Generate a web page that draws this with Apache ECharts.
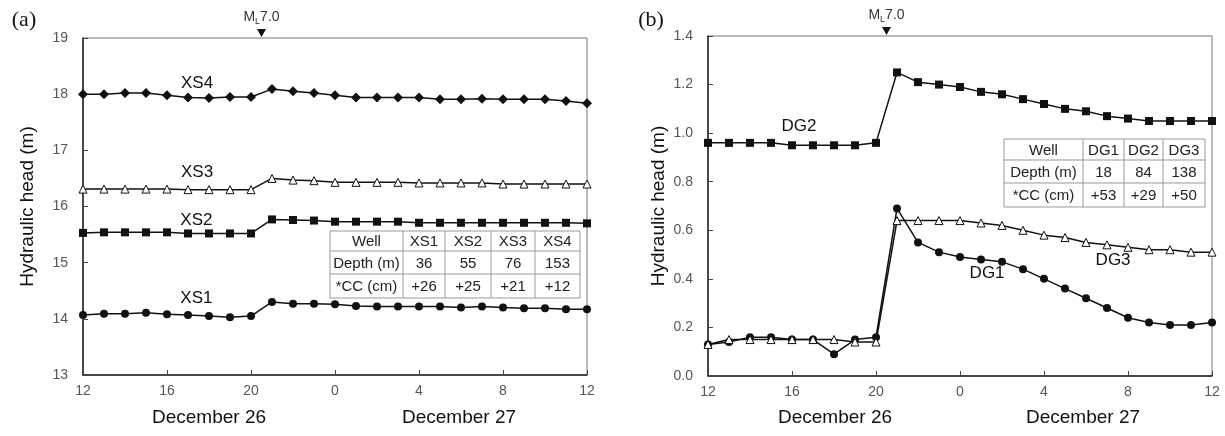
<!DOCTYPE html>
<html><head><meta charset="utf-8">
<script src="https://cdn.jsdelivr.net/npm/echarts@6/dist/echarts.min.js"></script>
<style>html,body{margin:0;padding:0;background:#fff}#c{width:1225px;height:436px}</style>
</head><body><div id="c"></div>
<script>
// ---- data ----
const hours = [12,13,14,15,16,17,18,19,20,21,22,23,24,25,26,27,28,29,30,31,32,33,34,35,36];
const xTickValues = [12,16,20,24,28,32,36];
const xTickLabels = ['12','16','20','0','4','8','12'];
const dayLabels = ['December 26','December 27'];
const xs4 = [18.00,18.00,18.02,18.02,17.98,17.94,17.93,17.95,17.95,18.09,18.05,18.02,17.98,17.94,17.94,17.94,17.94,17.91,17.91,17.92,17.91,17.91,17.91,17.88,17.84];
const xs3 = [16.31,16.31,16.31,16.31,16.31,16.30,16.30,16.30,16.30,16.50,16.47,16.46,16.43,16.43,16.43,16.43,16.42,16.42,16.42,16.42,16.40,16.40,16.40,16.40,16.40];
const xs2 = [15.53,15.54,15.54,15.54,15.54,15.52,15.52,15.52,15.52,15.77,15.76,15.75,15.73,15.73,15.73,15.73,15.71,15.71,15.71,15.71,15.71,15.71,15.71,15.71,15.70];
const xs1 = [14.07,14.09,14.09,14.11,14.08,14.07,14.05,14.03,14.05,14.30,14.27,14.27,14.26,14.23,14.22,14.22,14.22,14.22,14.20,14.22,14.20,14.19,14.19,14.17,14.17];
const dg2 = [0.96,0.96,0.96,0.96,0.95,0.95,0.95,0.95,0.96,1.25,1.21,1.20,1.19,1.17,1.16,1.14,1.12,1.10,1.09,1.07,1.06,1.05,1.05,1.05,1.05];
const dg1 = [0.13,0.14,0.16,0.16,0.15,0.15,0.09,0.15,0.16,0.69,0.55,0.51,0.49,0.48,0.47,0.44,0.40,0.36,0.32,0.28,0.24,0.22,0.21,0.21,0.22];
const dg3 = [0.13,0.15,0.15,0.15,0.15,0.15,0.15,0.14,0.14,0.64,0.64,0.64,0.64,0.63,0.62,0.60,0.58,0.57,0.55,0.54,0.53,0.52,0.52,0.51,0.51];
const quakeHour = 20.5;
const tableA = [['Well','XS1','XS2','XS3','XS4'],['Depth (m)','36','55','76','153'],['*CC (cm)','+26','+25','+21','+12']];
const tableB = [['Well','DG1','DG2','DG3'],['Depth (m)','18','84','138'],['*CC (cm)','+53','+29','+50']];

// ---- chart ----
const FONT = 'Liberation Sans, Arial, sans-serif';
const pairs = v => hours.map((h,i)=>[h,v[i]]);
function xAxis(gi){
  return {type:'value', gridIndex:gi, min:12, max:36, interval:4,
    axisLine:{lineStyle:{color:'#222',width:1.5}},
    axisTick:{inside:true,length:5,lineStyle:{color:'#444'}},
    axisLabel:{color:'#555',fontSize:14,fontFamily:FONT,margin:9,
      formatter:v=>xTickLabels[xTickValues.indexOf(v)]},
    splitLine:{show:false}};
}
function yAxis(gi,min,max,interval,dec,gap){
  return {type:'value', gridIndex:gi, min, max, interval,
    name:'Hydraulic head (m)', nameLocation:'middle', nameGap:gap,
    nameTextStyle:{color:'#111',fontSize:19,fontFamily:FONT},
    axisLine:{show:true,lineStyle:{color:'#222',width:1.5}},
    axisTick:{show:true,inside:true,length:5,lineStyle:{color:'#444'}},
    axisLabel:{color:'#555',fontSize:14,fontFamily:FONT,margin:15,
      formatter:v=>v.toFixed(dec)},
    splitLine:{show:false}};
}
function mp(name,coord){
  return {name, coord, symbol:'circle', symbolSize:1, itemStyle:{color:'rgba(0,0,0,0)'},
    label:{show:true,position:'inside',formatter:name,color:'#111',fontSize:17,fontFamily:FONT}};
}
function quake(ymax){
  return {coord:[quakeHour,ymax], symbol:'triangle', symbolRotate:180, symbolSize:[9,8],
    symbolOffset:[0,-5], itemStyle:{color:'#111'},
    label:{show:true,position:'top',distance:3,
      formatter:'{m|M}{l|L}{t|7.0}',
      rich:{m:{fontSize:14,color:'#333',fontFamily:FONT},
            l:{fontSize:9,color:'#333',fontFamily:FONT,padding:[8,0,0,0]},
            t:{fontSize:14,color:'#333',fontFamily:FONT}}}};
}
function line(name,data,xi,symbol,size,hollow,marks){
  return {type:'line', name, xAxisIndex:xi, yAxisIndex:xi, data:pairs(data),
    symbol, symbolSize:size, showAllSymbol:true, clip:false,
    lineStyle:{color:'#111',width:1.5},
    itemStyle:{color: hollow?'#fff':'#111', borderColor:'#111', borderWidth: hollow?1:0},
    emphasis:{disabled:true},
    markPoint: marks?{animation:false,data:marks}:undefined,
    z: hollow?3:2};
}
function table(rows, colX, rowY){
  const els=[];
  els.push({type:'rect',shape:{x:colX[0],y:rowY[0],width:colX[colX.length-1]-colX[0],height:rowY[rowY.length-1]-rowY[0]},
    style:{fill:'#fff',stroke:'#999',lineWidth:1},z:10});
  for(let i=1;i<colX.length-1;i++) els.push({type:'line',shape:{x1:colX[i],y1:rowY[0],x2:colX[i],y2:rowY[rowY.length-1]},style:{stroke:'#999',lineWidth:1},z:11});
  for(let j=1;j<rowY.length-1;j++) els.push({type:'line',shape:{x1:colX[0],y1:rowY[j],x2:colX[colX.length-1],y2:rowY[j]},style:{stroke:'#999',lineWidth:1},z:11});
  rows.forEach((r,j)=>r.forEach((t,i)=>{
    els.push({type:'text',x:(colX[i]+colX[i+1])/2,y:(rowY[j]+rowY[j+1])/2+1,
      style:{text:t,fill:'#222',font:'15px '+FONT,align:'center',verticalAlign:'middle'},z:12});
  }));
  return els;
}
function txt(t,x,y,font){ return {type:'text',x,y,style:{text:t,fill:'#111',font,align:'center',verticalAlign:'middle'}}; }

const option = {
  animation:false,
  grid:[{left:83,top:38,width:504,height:337,show:true,borderColor:'#777',borderWidth:1},
        {left:708,top:36,width:504,height:340,show:true,borderColor:'#777',borderWidth:1}],
  xAxis:[xAxis(0),xAxis(1)],
  yAxis:[yAxis(0,13,19,1,0,46),yAxis(1,0,1.4,0.2,1,40)],
  series:[
    line('XS4',xs4,0,'diamond',10,false,[mp('XS4',[17.43,18.20]),quake(19)]),
    line('XS3',xs3,0,'triangle',8,true,[mp('XS3',[17.43,16.60])]),
    line('XS2',xs2,0,'rect',8,false,[mp('XS2',[17.4,15.76])]),
    line('XS1',xs1,0,'circle',8,false,[mp('XS1',[17.4,14.36])]),
    line('DG2',dg2,1,'rect',8,false,[mp('DG2',[16.33,1.03]),quake(1.4)]),
    line('DG3',dg3,1,'triangle',8,true,[mp('DG3',[31.29,0.478])]),
    line('DG1',dg1,1,'circle',8,false,[mp('DG1',[25.29,0.424])])
  ],
  graphic:[
    txt('(a)',24,20,'22px Liberation Serif, DejaVu Serif, serif'),
    txt('(b)',651,20,'22px Liberation Serif, DejaVu Serif, serif'),
    txt(dayLabels[0],209,418,'19px '+FONT),
    txt(dayLabels[1],459,418,'19px '+FONT),
    txt(dayLabels[0],835,418,'19px '+FONT),
    txt(dayLabels[1],1083,418,'19px '+FONT),
    ...table(tableA,[330,403,445,491,535,580],[231,251,274,298]),
    ...table(tableB,[1004,1083,1124,1163,1205],[139,160,183,207])
  ]
};
echarts.init(document.getElementById('c')).setOption(option);
</script></body></html>
